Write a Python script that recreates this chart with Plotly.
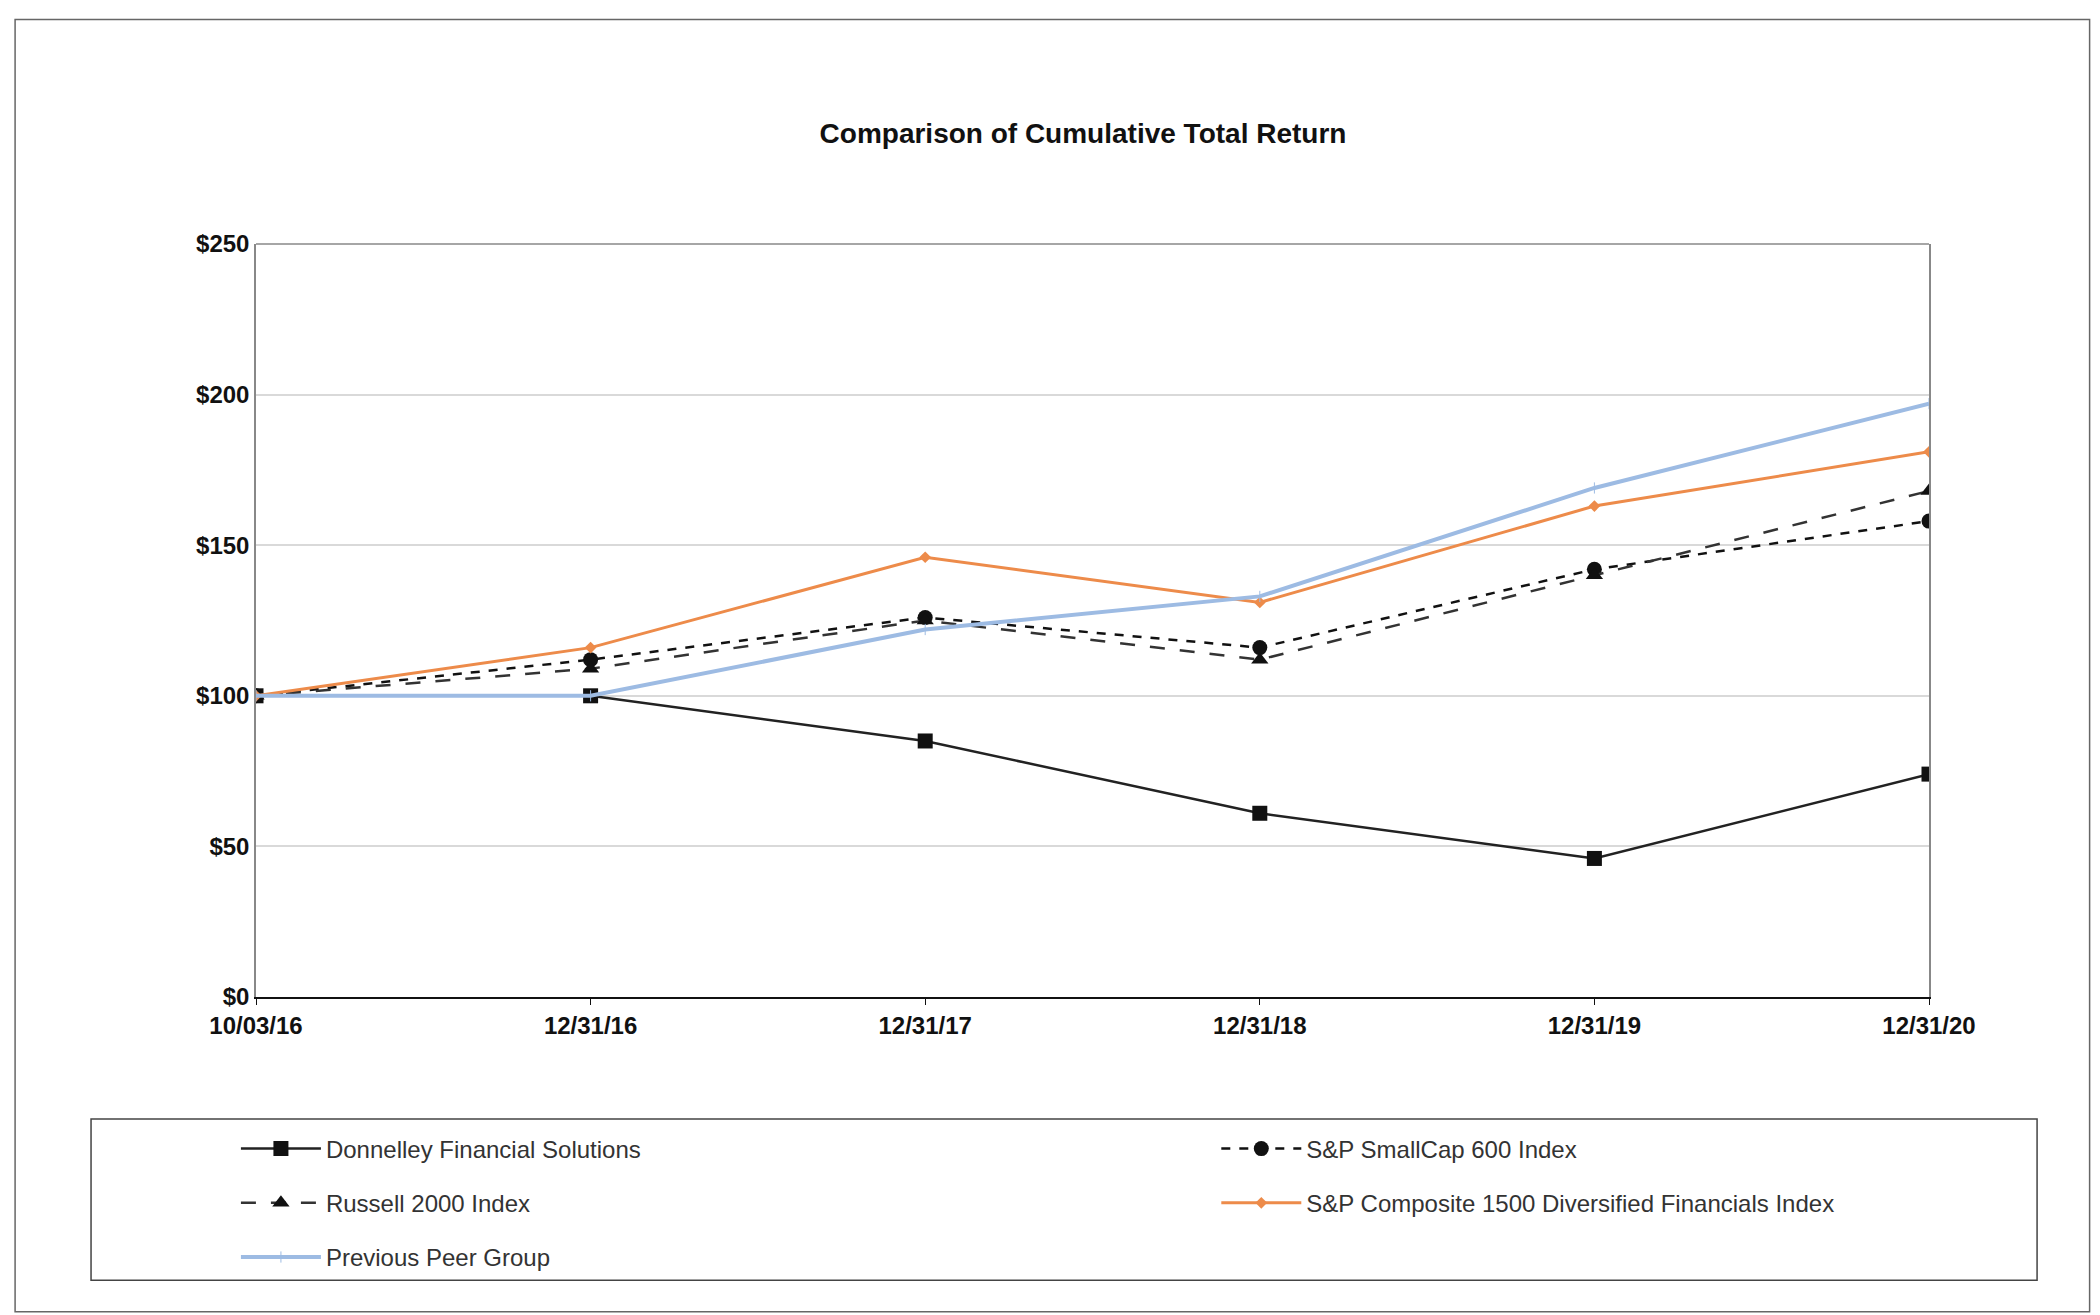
import plotly.graph_objects as go

dates = ["10/03/16", "12/31/16", "12/31/17", "12/31/18", "12/31/19", "12/31/20"]
dfin = [100, 100, 85, 61, 46, 74]
smallcap = [100, 112, 126, 116, 142, 158]
russell = [100, 109, 125, 112, 140, 168]
sp1500 = [100, 116, 146, 131, 163, 181]
peer = [100, 100, 122, 133, 169, 197]
yticks = [0, 50, 100, 150, 200, 250]

x = list(range(len(dates)))
fig = go.Figure()
fig.add_trace(go.Scatter(x=x, y=dfin, name="Donnelley Financial Solutions", mode="lines+markers",
                         legend="legend", legendgroup="a",
                         line=dict(color="#222", width=2.5), marker=dict(symbol="square", size=15, color="#111")))
fig.add_trace(go.Scatter(x=x, y=smallcap, name="S&P SmallCap 600 Index", mode="lines+markers",
                         legend="legend2", legendgroup="b",
                         line=dict(color="#111", width=2.5, dash="dash"), marker=dict(symbol="circle", size=15, color="#111")))
fig.add_trace(go.Scatter(x=x, y=russell, name="Russell 2000 Index", mode="lines+markers",
                         legend="legend", legendgroup="c",
                         line=dict(color="#333", width=2.5, dash="longdash"), marker=dict(symbol="triangle-up", size=15, color="#111")))
fig.add_trace(go.Scatter(x=x, y=sp1500, name="S&P Composite 1500 Diversified Financials Index", mode="lines+markers",
                         legend="legend2", legendgroup="d",
                         line=dict(color="#ED8B4A", width=3), marker=dict(symbol="diamond", size=9, color="#ED8B4A")))
fig.add_trace(go.Scatter(x=x, y=peer, name="Previous Peer Group", mode="lines+markers",
                         legend="legend", legendgroup="e",
                         line=dict(color="#9DBBE3", width=4), marker=dict(symbol="line-ns", size=8, color="#9DBBE3",
                                                                           line=dict(width=1, color="#9DBBE3"))))

shapes = [
    dict(type="rect", xref="paper", yref="paper", x0=-0.144, x1=1.096, y0=-0.418, y1=1.298,
         line=dict(color="#666", width=1.5), layer="below"),
    dict(type="rect", xref="paper", yref="paper", x0=-0.0986, x1=1.0646, y0=-0.376, y1=-0.162,
         line=dict(color="#444", width=1.5), layer="below"),
    dict(type="line", xref="paper", yref="paper", x0=0, x1=1, y0=1, y1=1,
         line=dict(color="#888", width=1.5)),
]

legfont = dict(size=24, color="#333")
fig.update_layout(
    width=2100, height=1315, paper_bgcolor="white", plot_bgcolor="white",
    margin=dict(l=248, r=179, t=236, b=326),
    font=dict(family="Liberation Sans, Arial", color="#222"),
    title=dict(text="<b>Comparison of Cumulative Total Return</b>", x=1075 / 2100,
               xanchor="center", y=1 - 125 / 1315, yanchor="middle", font=dict(size=28, color="#111")),
    xaxis=dict(range=[0, 5], tickvals=x, ticktext=[f"<b>{d}</b>" for d in dates], showgrid=False,
               showline=True, linecolor="#111", linewidth=2, mirror=False, tickfont=dict(size=24, color="#111"),
               ticks="outside", ticklen=6, tickcolor="#111", zeroline=False),
    yaxis=dict(range=[0, 250], tickvals=yticks, ticktext=[f"<b>${v}</b>" for v in yticks], showgrid=True,
               gridcolor="#D9D9D9", gridwidth=1.5, showline=True, linecolor="#888", linewidth=1.5, mirror=True,
               tickfont=dict(size=24, color="#111"), zeroline=False, ticks=""),
    legend=dict(x=-0.012, y=-0.172, xanchor="left", yanchor="top", font=legfont,
                bgcolor="rgba(0,0,0,0)", itemwidth=80, tracegroupgap=20),
    legend2=dict(x=0.574, y=-0.172, xanchor="left", yanchor="top", font=legfont,
                 bgcolor="rgba(0,0,0,0)", itemwidth=80, tracegroupgap=20),
    shapes=shapes,
)
fig.write_html("out.html")
